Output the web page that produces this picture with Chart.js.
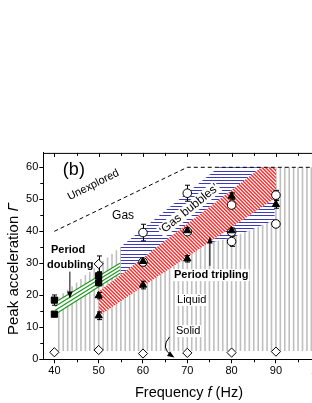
<!DOCTYPE html>
<html>
<head>
<meta charset="utf-8">
<script src="https://cdn.jsdelivr.net/npm/chart.js@4.4.1/dist/chart.umd.min.js"></script>
<style>
html, body { margin: 0; padding: 0; background: #fff; overflow: hidden; width: 312px; height: 403px; }
canvas { display: block; }
</style>
</head>
<body>
<canvas id="phase-chart" width="340" height="403"></canvas>
<script>
// measured points (frequency in Hz, peak acceleration)
const freqSquares = [40, 40, 50, 50];
const gammaSquares = [18.5, 14.1, 26.1, 23.9];
const errSquares = [1.6, 0.6, 1.2, 0.6];

const freqTriangles = [50, 50, 60, 60, 70, 70, 80, 80, 90];
const gammaTriangles = [19.9, 13.6, 23.2, 30.6, 31.4, 40.2, 51.0, 40.2, 48.4];
const errTriangles = [1.0, 1.2, 1.2, 0.8, 1.0, 0.8, 1.0, 0.8, 1.2];

const freqCircles = [60, 60, 70, 70, 80, 80, 80, 90, 90];
const gammaCircles = [39.6, 30.4, 51.9, 39.9, 48.2, 39.8, 36.8, 51.3, 42.3];
const errCircles = [2.6, 0.8, 2.5, 0.8, 1.0, 0.8, 1.5, 1.5, 1.0];

const freqDiamonds = [40, 50, 50, 60, 70, 80, 90];
const gammaDiamonds = [2.2, 29.8, 2.9, 1.8, 2.0, 2.1, 2.4];
const errDiamonds = [0, 2.5, 0, 0, 0, 0, 0];

// phase boundaries
const unexploredF = [40, 70, 102.5];
const unexploredG = [40, 60, 60];
const liquidTopF = [41, 77.1, 102.5];
const liquidTopG = [19.5, 60, 60];
const liquidBottomG = 2.6;
const blueF = [55, 55, 77.1, 89.7, 89.7, 80, 72, 55];
const blueG = [26, 35.2, 60, 60, 43.5, 38, 35.5, 26];
const redF = [50, 50, 86.7, 90, 90];
const redG = [13.5, 21.2, 60, 60, 50.5];
const greenF = [40.2, 54.8, 54.8, 40.2];
const greenG = [14.1, 26.9, 30.0, 17.8];

const xTicks = [40, 50, 60, 70, 80, 90, 100];
const yTicks = [0, 10, 20, 30, 40, 50, 60];

const FONT = "'Liberation Sans', Arial, sans-serif";

function pts(fs, gs) {
  return fs.map((f, i) => ({x: f, y: gs[i]}));
}

function interp(fs, gs, f) {
  for (let i = 0; i < fs.length - 1; i++) {
    if (f >= fs[i] && f <= fs[i + 1]) {
      return gs[i] + (gs[i + 1] - gs[i]) * (f - fs[i]) / (fs[i + 1] - fs[i]);
    }
  }
  return f < fs[0] ? gs[0] : gs[gs.length - 1];
}

function tracePoly(ctx, X, Y, fs, gs) {
  ctx.beginPath();
  fs.forEach((f, i) => i ? ctx.lineTo(X(f), Y(gs[i])) : ctx.moveTo(X(f), Y(gs[i])));
  ctx.closePath();
}

function arrowHead(ctx, x, y, ang) {
  ctx.save();
  ctx.translate(x, y);
  ctx.rotate(ang);
  ctx.beginPath();
  ctx.moveTo(0, 0);
  ctx.lineTo(-7, -2.8);
  ctx.lineTo(-7, 2.8);
  ctx.closePath();
  ctx.fill();
  ctx.restore();
}

const regions = {
  id: 'regions',
  beforeDatasetsDraw(chart) {
    const ctx = chart.ctx, a = chart.chartArea;
    const X = v => chart.scales.x.getPixelForValue(v);
    const Y = v => chart.scales.y.getPixelForValue(v);
    ctx.save();
    ctx.beginPath();
    ctx.rect(a.left, a.top, a.right - a.left, a.bottom - a.top);
    ctx.clip();

    // liquid: grey vertical lines, one per Hz
    ctx.strokeStyle = '#bfbfbf';
    ctx.lineWidth = 1.6;
    ctx.beginPath();
    for (let f = 41; f <= 102; f++) {
      ctx.moveTo(X(f), Y(liquidBottomG));
      ctx.lineTo(X(f), Y(interp(liquidTopF, liquidTopG, f)));
    }
    ctx.stroke();

    // gas bubbles: blue horizontal hatch
    ctx.save();
    tracePoly(ctx, X, Y, blueF, blueG);
    ctx.fillStyle = '#fff';
    ctx.fill();
    ctx.clip();
    ctx.strokeStyle = '#3b3bb8';
    ctx.lineWidth = 1.2;
    ctx.beginPath();
    for (let g = 20; g <= 61; g++) {
      const y = Math.round(Y(g)) + 0.5;
      ctx.moveTo(a.left, y);
      ctx.lineTo(a.right, y);
    }
    ctx.stroke();
    ctx.restore();

    // period tripling: red diagonal hatch
    ctx.save();
    tracePoly(ctx, X, Y, redF, redG);
    ctx.fillStyle = '#fff';
    ctx.fill();
    ctx.clip();
    ctx.strokeStyle = '#ff2b2b';
    ctx.lineWidth = 1.4;
    ctx.beginPath();
    const h = a.bottom - a.top;
    for (let c = a.left - h; c < a.right; c += 3.6) {
      ctx.moveTo(c, a.top);
      ctx.lineTo(c + h, a.bottom);
    }
    ctx.stroke();
    ctx.restore();

    // period doubling: green band
    ctx.save();
    tracePoly(ctx, X, Y, greenF, greenG);
    ctx.fillStyle = '#fff';
    ctx.fill();
    ctx.strokeStyle = '#1f9a1f';
    ctx.lineWidth = 1.2;
    ctx.beginPath();
    [0, 0.33, 0.67, 1].forEach(t => {
      const g0 = greenG[0] + (greenG[3] - greenG[0]) * t;
      const g1 = greenG[1] + (greenG[2] - greenG[1]) * t;
      ctx.moveTo(X(greenF[0]), Y(g0));
      ctx.lineTo(X(greenF[1]), Y(g1));
    });
    ctx.stroke();
    ctx.restore();

    // white backing for the text inside the gas bubble region
    ctx.save();
    ctx.translate(X(70.4), Y(46.9));
    ctx.rotate(-0.68);
    ctx.font = '12px ' + FONT;
    const wb = ctx.measureText('\u2018Gas bubbles\u2019').width;
    ctx.fillStyle = '#fff';
    ctx.fillRect(-wb / 2 - 1, -6.5, wb + 2, 13);
    ctx.restore();

    // error bars
    ctx.strokeStyle = '#000';
    ctx.lineWidth = 1;
    const bars = [[freqSquares, gammaSquares, errSquares], [freqTriangles, gammaTriangles, errTriangles],
                  [freqCircles, gammaCircles, errCircles], [freqDiamonds, gammaDiamonds, errDiamonds]];
    ctx.beginPath();
    bars.forEach(([fs, gs, es]) => {
      fs.forEach((f, i) => {
        if (!es[i]) return;
        const x = Math.round(X(f)) + 0.5, y0 = Y(gs[i] - es[i]), y1 = Y(gs[i] + es[i]);
        ctx.moveTo(x, y0); ctx.lineTo(x, y1);
        ctx.moveTo(x - 2.5, y0); ctx.lineTo(x + 2.5, y0);
        ctx.moveTo(x - 2.5, y1); ctx.lineTo(x + 2.5, y1);
      });
    });
    ctx.stroke();
    ctx.restore();
  },
  afterDraw(chart) {
    const ctx = chart.ctx, a = chart.chartArea;
    const X = v => chart.scales.x.getPixelForValue(v);
    const Y = v => chart.scales.y.getPixelForValue(v);
    ctx.save();
    ctx.strokeStyle = '#000';
    ctx.fillStyle = '#000';
    ctx.lineWidth = 1;

    // top spine, ticks inward; minor ticks on left and bottom
    ctx.beginPath();
    ctx.moveTo(a.left, a.top + 0.5);
    ctx.lineTo(a.right, a.top + 0.5);
    for (let f = 40; f <= 100; f += 5) {
      const x = Math.round(X(f)) + 0.5;
      ctx.moveTo(x, a.top);
      ctx.lineTo(x, a.top + (f % 10 ? 3 : 4));
      if (f % 10) { ctx.moveTo(x, a.bottom); ctx.lineTo(x, a.bottom + 3); }
    }
    for (let g = 5; g <= 60; g += 10) {
      const y = Math.round(Y(g)) + 0.5;
      ctx.moveTo(a.left, y);
      ctx.lineTo(a.left - 3, y);
    }
    ctx.stroke();

    // arrows
    ctx.beginPath();
    ctx.moveTo(X(43.5), Y(27.4));
    ctx.lineTo(X(43.5), Y(20.5));
    ctx.moveTo(X(75.1), Y(29.2));
    ctx.lineTo(X(75.1), Y(37.0));
    ctx.moveTo(X(66.0), Y(7.0));
    ctx.quadraticCurveTo(X(63.8), Y(3.6), X(66.6), Y(1.0));
    ctx.stroke();
    arrowHead(ctx, X(43.5), Y(19.0), Math.PI / 2);
    arrowHead(ctx, X(75.1), Y(38.4), -Math.PI / 2);
    arrowHead(ctx, X(67.1), Y(0.6), 0.55);

    // labels
    const text = (s, f, g, font, rot, box) => {
      ctx.save();
      ctx.font = font;
      ctx.translate(X(f), Y(g));
      ctx.rotate(rot || 0);
      ctx.textAlign = 'center';
      ctx.textBaseline = 'middle';
      if (box) {
        const w = ctx.measureText(s).width;
        ctx.fillStyle = '#fff';
        ctx.fillRect(-w / 2 - 1, -6, w + 2, 12);
      }
      ctx.fillStyle = '#000';
      ctx.fillText(s, 0, 0);
      ctx.restore();
    };
    text('(b)', 44.4, 59.2, '18px ' + FONT);
    text('Unexplored', 48.8, 54.5, '11px ' + FONT, -0.47);
    text('Gas', 55.5, 44.8, '12px ' + FONT);
    text('\u2018Gas bubbles\u2019', 70.4, 46.9, '12px ' + FONT, -0.68);
    text('Period', 43.1, 34.2, 'bold 11px ' + FONT);
    text('doubling', 43.6, 29.5, 'bold 11px ' + FONT);
    text('Period tripling', 75.4, 26.3, 'bold 11px ' + FONT, 0, true);
    text('Liquid', 71.0, 18.5, '11px ' + FONT, 0, true);
    text('Solid', 70.2, 8.8, '11px ' + FONT, 0, true);

    // axis titles
    ctx.textBaseline = 'middle';
    ctx.textAlign = 'left';
    ctx.font = '14.5px ' + FONT;
    const p1 = 'Frequency ', p2 = 'f', p3 = ' (Hz)';
    const w1 = ctx.measureText(p1).width, w3 = ctx.measureText(p3).width;
    ctx.font = 'italic 14.5px ' + FONT;
    const w2 = ctx.measureText(p2).width;
    let x0 = 189 - (w1 + w2 + w3) / 2;
    ctx.font = '14.5px ' + FONT;
    ctx.fillText(p1, x0, 393);
    ctx.font = 'italic 14.5px ' + FONT;
    ctx.fillText(p2, x0 + w1, 393);
    ctx.font = '14.5px ' + FONT;
    ctx.fillText(p3, x0 + w1 + w2, 393);

    ctx.translate(13.5, 269);
    ctx.rotate(-Math.PI / 2);
    ctx.font = '15px ' + FONT;
    const q1 = 'Peak acceleration ', q2 = '\u0393';
    const v1 = ctx.measureText(q1).width;
    ctx.font = 'italic 15px ' + FONT;
    const v2 = ctx.measureText(q2).width;
    ctx.font = '15px ' + FONT;
    ctx.fillText(q1, -(v1 + v2) / 2, 0);
    ctx.font = 'italic 15px ' + FONT;
    ctx.fillText(q2, -(v1 + v2) / 2 + v1, 0);
    ctx.restore();
  }
};

const tickFont = {family: FONT, size: 11};

new Chart(document.getElementById('phase-chart'), {
  type: 'scatter',
  data: {
    datasets: [
      {
        label: 'boundary',
        data: pts(unexploredF, unexploredG),
        showLine: true,
        borderColor: '#000',
        borderWidth: 1,
        borderDash: [4, 3],
        pointRadius: 0,
        order: 5
      },
      {
        label: 'triangles',
        data: pts(freqTriangles, gammaTriangles),
        pointStyle: 'triangle',
        pointRadius: 4.2,
        backgroundColor: '#000',
        borderColor: '#000',
        borderWidth: 1,
        order: 0
      },
      {
        label: 'squares',
        data: pts(freqSquares, gammaSquares),
        pointStyle: 'rect',
        pointRadius: 4.4,
        backgroundColor: '#000',
        borderColor: '#000',
        borderWidth: 1,
        order: 1
      },
      {
        label: 'circles',
        data: pts(freqCircles, gammaCircles),
        pointStyle: 'circle',
        pointRadius: 4.3,
        backgroundColor: '#fff',
        borderColor: '#000',
        borderWidth: 1,
        order: 2
      },
      {
        label: 'diamonds',
        data: pts(freqDiamonds, gammaDiamonds),
        pointStyle: 'rectRot',
        pointRadius: 4.6,
        backgroundColor: '#fff',
        borderColor: '#000',
        borderWidth: 1,
        order: 3
      }
    ]
  },
  options: {
    responsive: false,
    animation: false,
    layout: {padding: {top: 152.9, right: 8.7, left: 0, bottom: 0}},
    plugins: {legend: {display: false}, tooltip: {enabled: false}},
    scales: {
      x: {
        type: 'linear',
        min: 37.5,
        max: 102.5,
        afterFit: s => { s.height = 43.7; },
        afterBuildTicks: s => { s.ticks = xTicks.map(v => ({value: v})); },
        ticks: {font: tickFont, color: '#000', padding: 1, maxRotation: 0},
        grid: {drawOnChartArea: false, tickLength: 4, color: '#000'},
        border: {color: '#000', width: 1}
      },
      y: {
        min: 0,
        max: 64.5,
        afterFit: s => { s.width = 43.3; },
        afterBuildTicks: s => { s.ticks = yTicks.map(v => ({value: v})); },
        ticks: {font: tickFont, color: '#000', padding: 1},
        grid: {drawOnChartArea: false, tickLength: 4, color: '#000'},
        border: {color: '#000', width: 1}
      }
    }
  },
  plugins: [regions]
});
</script>
</body>
</html>
